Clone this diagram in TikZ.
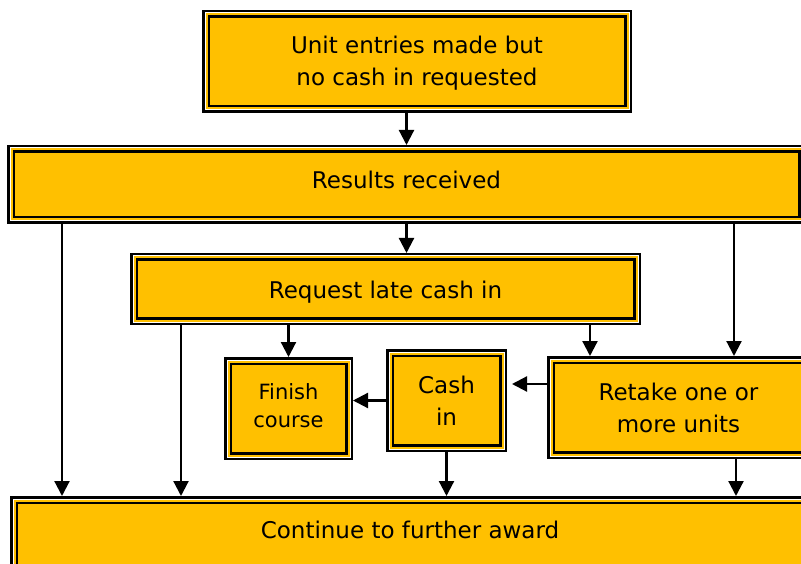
\documentclass[tikz,border=0pt]{standalone}
\usepackage{fontspec}
\setmainfont{DejaVu Sans}
\usetikzlibrary{arrows.meta}
\definecolor{ycol}{RGB}{255,192,0}
\begin{document}
\begin{tikzpicture}[x=1pt,y=-1pt,
  box/.style={rectangle, fill=ycol, draw=black, line width=2.5pt, double=ycol,
    double distance=3pt, outer sep=4pt, inner sep=0pt, align=center,
    font=\fontsize{23}{32}\selectfont},
  ring/.style={draw=white, line width=1pt},
  conn/.style={line width=2.2pt, -{Triangle[width=15pt,length=15pt]}}]
\useasboundingbox (0,0) rectangle (801,564);
\node[box, minimum width=422pt, minimum height=95pt, text height=53.5pt] (top) at (417,61.5) {Unit entries made but\\no cash in requested};
\node[box, minimum width=791pt, minimum height=71pt, text height=10pt, text depth=2.2pt] (res) at (406.5,184.5) {Results received};
\node[box, minimum width=503pt, minimum height=64pt, text height=18.8pt, text depth=0pt] (req) at (385.5,289) {Request late cash in};
\node[box, minimum width=121pt, minimum height=95pt, text depth=6pt, font=\fontsize{21}{28}\selectfont] (fin) at (288.5,408.5) {Finish\\course};
\node[box, minimum width=113pt, minimum height=95pt] (cash) at (446.5,400.5) {Cash\\in};
\node[box, minimum width=255pt, minimum height=95pt] (ret) at (678.5,407.5) {Retake one or\\more units};
\node[box, minimum width=792pt, minimum height=76pt, text height=5pt, text depth=4.2pt] (cont) at (410,538) {Continue to further award};
\foreach \n in {top,res,req,fin,cash,ret,cont}
  \draw[ring] ([shift={(3,-3)}]\n.south west) rectangle ([shift={(-3,3)}]\n.north east);
\coordinate (xa) at (62,0);
\coordinate (xb) at (181,0);
\coordinate (xc) at (590,0);
\coordinate (xd) at (734,0);
\coordinate (xe) at (736,0);
\coordinate (ya) at (0,384);
\draw[conn] (top.south -| res.north) -- (res.north);
\draw[conn] (res.south) -- (res.south |- req.north);
\draw[conn] (res.south -| xa) -- (cont.north -| xa);
\draw[conn] (res.south -| xd) -- (ret.north -| xd);
\draw[conn] (req.south -| fin.north) -- (fin.north);
\draw[conn] (req.south -| xc) -- (ret.north -| xc);
\draw[conn] (req.south -| xb) -- (cont.north -| xb);
\draw[conn] (cash.west) -- (cash.west -| fin.east);
\draw[conn, shorten >=5pt] (ret.west |- ya) -- (cash.east |- ya);
\draw[conn] (cash.south) -- (cash.south |- cont.north);
\draw[conn] (ret.south -| xe) -- (cont.north -| xe);
\end{tikzpicture}
\end{document}
